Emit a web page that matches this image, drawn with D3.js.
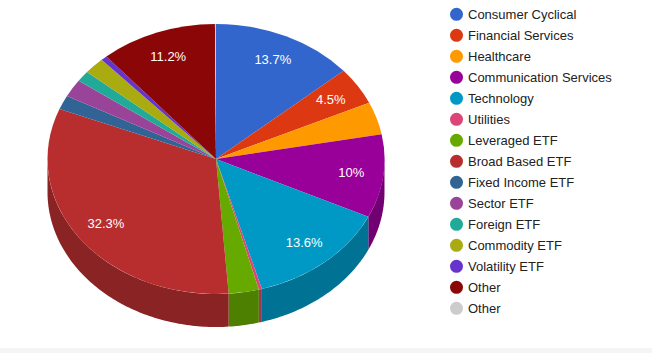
<!DOCTYPE html>
<html>
<head>
<meta charset="utf-8">
<script src="https://cdn.jsdelivr.net/npm/d3@7"></script>
<style>
  html, body { margin: 0; padding: 0; background: #fff; }
  svg { display: block; }
  text { font-family: "Liberation Sans", Arial, sans-serif; }
</style>
</head>
<body>
<svg id="chart"></svg>
<script>
/* DATA */
const categories = ["Consumer Cyclical", "Financial Services", "Healthcare", "Communication Services",
  "Technology", "Utilities", "Leveraged ETF", "Broad Based ETF", "Fixed Income ETF", "Sector ETF",
  "Foreign ETF", "Commodity ETF", "Volatility ETF", "Other", "Other"];
const values = [13.7, 4.5, 3.9, 10, 13.6, 0.3, 2.9, 32.3, 1.7, 2.1, 1.3, 2, 0.6, 11.2, 0.1];
const colors = ["#3366cc", "#dc3912", "#ff9900", "#990099", "#0099c6", "#dd4477", "#66aa00", "#b82e2e",
  "#316395", "#994499", "#22aa99", "#aaaa11", "#6633cc", "#8b0707", "#cccccc"];

/* CONSTANTS */
const width = 652, height = 353,
  cx = 216, cy = 159, rx = 168.5, ry = 135, depth = 33,
  labelRadius = 0.81, minLabel = 4.5,
  legendX = 456.5, legendY = 14.3, legendStep = 21;

const svg = d3.select("#chart").attr("width", width).attr("height", height);

// grey strip along the bottom of the page
svg.append("rect").attr("x", 0).attr("y", 348).attr("width", width).attr("height", 5).attr("fill", "#f5f5f5");

// unit circle -> screen ellipse
const xScale = d3.scaleLinear().domain([-1, 1]).range([cx - rx, cx + rx]);
const yScale = d3.scaleLinear().domain([-1, 1]).range([cy - ry, cy + ry]);

const pie = d3.pie().sort(null).value(d => d.value);
const slices = pie(values.map((value, i) => ({ value, name: categories[i], color: colors[i] })));

const px = a => xScale(Math.sin(a));
const py = a => yScale(-Math.cos(a));

const darker = c => {
  const r = d3.rgb(c);
  return d3.rgb(r.r * 0.75, r.g * 0.75, r.b * 0.75).formatHex();
};

/* SIDE WALL: only the part of each slice facing the viewer */
const wall = d3.area().x(a => px(a)).y0(a => py(a)).y1(a => py(a) + depth);

svg.append("g").selectAll("path")
  .data(slices.filter(d => d.endAngle > Math.PI / 2 && d.startAngle < Math.PI * 1.5))
  .join("path")
  .attr("fill", d => darker(d.data.color))
  .attr("d", d => {
    const a0 = Math.max(d.startAngle, Math.PI / 2),
      a1 = Math.min(d.endAngle, Math.PI * 1.5),
      n = Math.ceil((a1 - a0) * 60);
    return wall(d3.range(n + 1).map(i => a0 + (a1 - a0) * i / n));
  });

/* TOP FACE */
const arc = d3.arc().innerRadius(0).outerRadius(100);

svg.append("g")
  .attr("transform", `translate(${cx},${cy}) scale(${rx / 100},${ry / 100})`)
  .selectAll("path")
  .data(slices)
  .join("path")
  .attr("fill", d => d.data.color)
  .attr("d", arc);

/* SLICE LABELS */
svg.append("g").selectAll("text")
  .data(slices.filter(d => d.data.value >= minLabel))
  .join("text")
  .attr("x", d => xScale(labelRadius * Math.sin((d.startAngle + d.endAngle) / 2)))
  .attr("y", d => yScale(-labelRadius * Math.cos((d.startAngle + d.endAngle) / 2)))
  .attr("dy", "0.33em")
  .attr("text-anchor", "middle")
  .attr("font-size", 13)
  .attr("fill", "#fff")
  .text(d => d.data.value + "%");

/* LEGEND */
const legend = svg.append("g").selectAll("g")
  .data(categories)
  .join("g")
  .attr("transform", (d, i) => `translate(${legendX},${legendY + i * legendStep})`);

legend.append("circle").attr("r", 6.5).attr("fill", (d, i) => colors[i]);

legend.append("text")
  .attr("x", 11.5)
  .attr("dy", "0.35em")
  .attr("font-size", 13)
  .attr("fill", "#222")
  .text(d => d);
</script>
</body>
</html>
